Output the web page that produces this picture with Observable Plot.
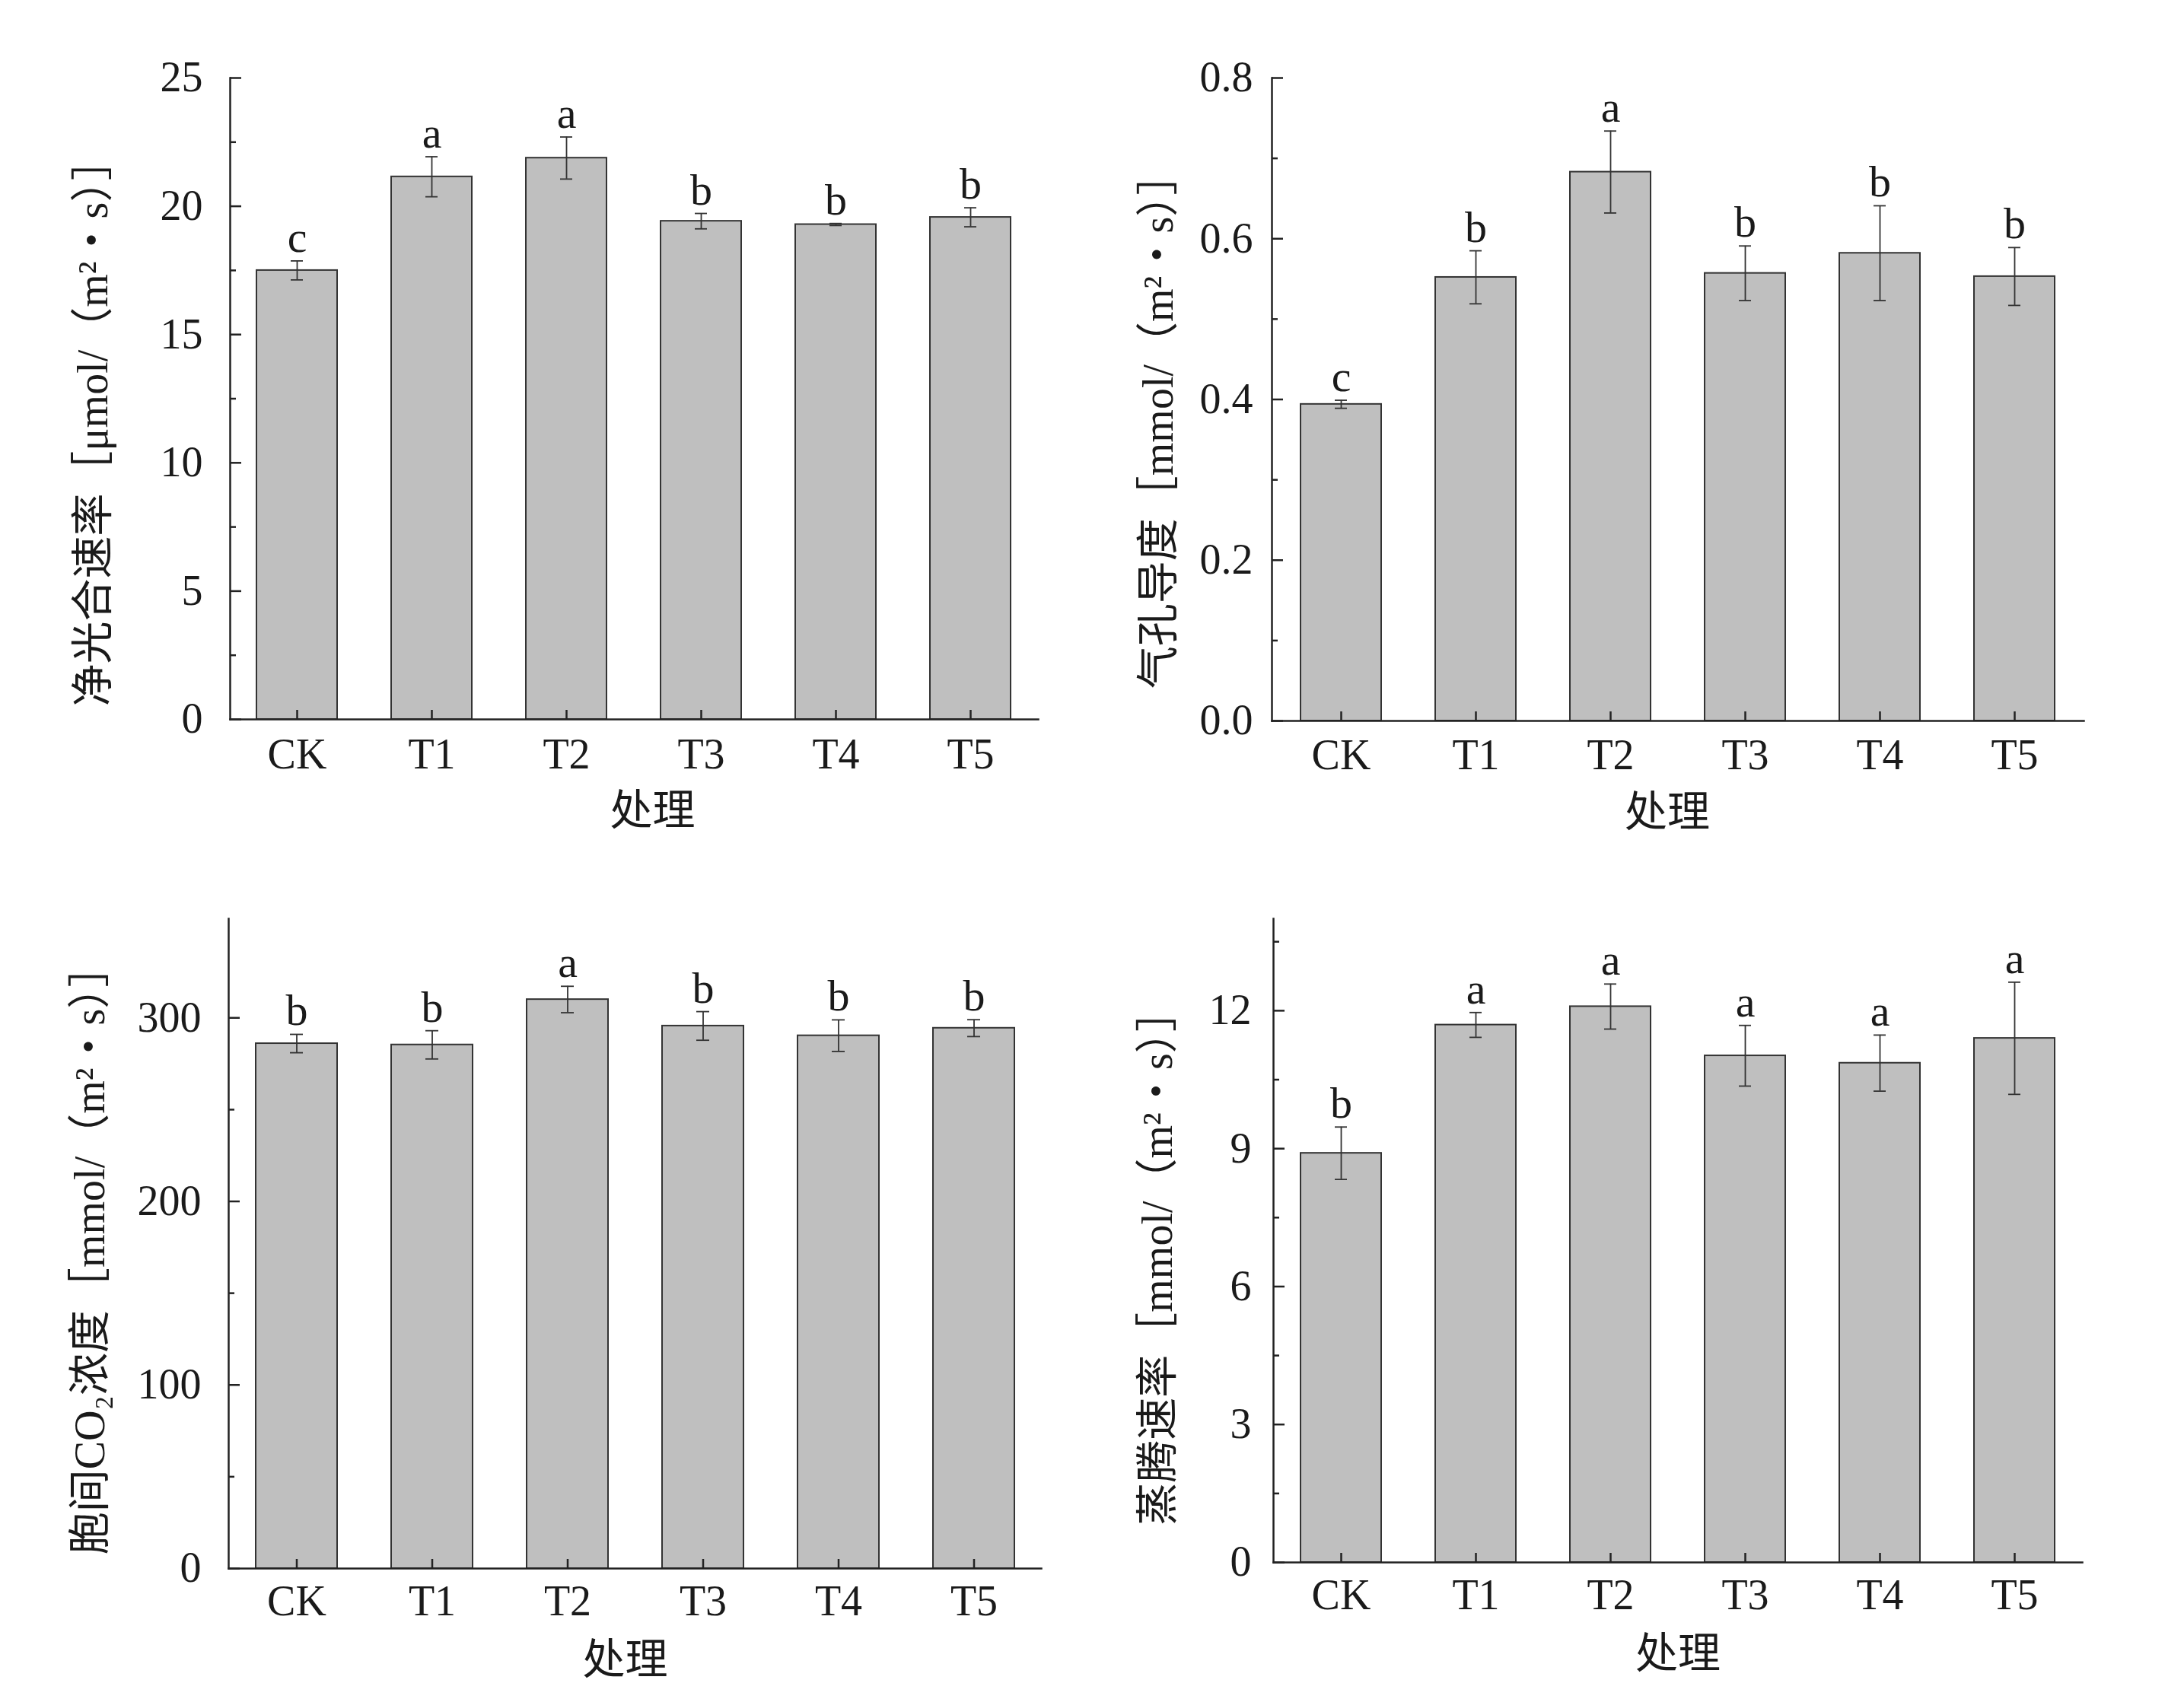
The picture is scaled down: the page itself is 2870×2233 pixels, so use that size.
<!DOCTYPE html>
<html>
<head>
<meta charset="utf-8">
<script src="https://cdn.jsdelivr.net/npm/d3@7"></script>
<script src="https://cdn.jsdelivr.net/npm/@observablehq/plot@0.6"></script>
<style>
  html, body { margin: 0; padding: 0; background: #fff; }
  #wrap { position: relative; width: 2870px; height: 2233px; background: #fff; }
  .panel { position: absolute; }
</style>
</head>
<body>
<div id="wrap"></div>
<script>
// ---- data ----
const categories = ["CK", "T1", "T2", "T3", "T4", "T5"];

const pnMean = [17.5, 21.15, 21.88, 19.42, 19.29, 19.57];
const pnErr = [0.37, 0.78, 0.82, 0.30, 0.04, 0.37];
const pnLetters = ["c", "a", "a", "b", "b", "b"];
const pnTicks = [0, 5, 10, 15, 20, 25];
const pnMinor = [2.5, 7.5, 12.5, 17.5, 22.5];

const gsMean = [0.394, 0.552, 0.683, 0.557, 0.582, 0.553];
const gsErr = [0.005, 0.033, 0.051, 0.034, 0.059, 0.036];
const gsLetters = ["c", "b", "a", "b", "b", "b"];
const gsTicks = [0, 0.2, 0.4, 0.6, 0.8];
const gsMinor = [0.1, 0.3, 0.5, 0.7];

const ciMean = [286, 285.3, 310, 295.6, 290.3, 294.4];
const ciErr = [5, 7.7, 7.2, 7.8, 8.6, 4.6];
const ciLetters = ["b", "b", "a", "b", "b", "b"];
const ciTicks = [0, 100, 200, 300];
const ciMinor = [50, 150, 250];

const trMean = [8.9, 11.69, 12.09, 11.02, 10.86, 11.40];
const trErr = [0.57, 0.27, 0.49, 0.66, 0.61, 1.22];
const trLetters = ["b", "a", "a", "a", "a", "a"];
const trTicks = [0, 3, 6, 9, 12];
const trMinor = [1.5, 4.5, 7.5, 10.5, 13.5];

const xTitle = "处理";
const pnTitle = "净光合速率［μmol/（m²・s）］";
const gsTitle = "气孔导度［mmol/（m²・s）］";
const ciTitle = "胞间CO₂浓度［mmol/（m²・s）］";
const trTitle = "蒸腾速率［mmol/（m²・s）］";

// ---- drawing ----
const FONT = "'Liberation Serif', 'Times New Roman', 'Noto Sans CJK SC', serif";
const INK = "#1a1a1a";

function panel(cfg) {
  const rows = categories.map((c, i) => ({
    cat: c, v: cfg.mean[i], lo: cfg.mean[i] - cfg.err[i], hi: cfg.mean[i] + cfg.err[i], L: cfg.letters[i]
  }));
  const fmt = cfg.fmt || (d => String(d));
  return Plot.plot({
    width: cfg.w, height: cfg.h,
    marginLeft: cfg.mL, marginRight: cfg.mR, marginTop: cfg.mT, marginBottom: cfg.mB,
    style: { fontFamily: FONT, fontSize: "56px", color: INK, background: "white", overflow: "visible" },
    x: { domain: categories, paddingInner: 0.4, paddingOuter: 0.2, axis: null },
    y: { domain: cfg.domain, axis: null },
    marks: [
      Plot.barY(rows, { x: "cat", y: "v", fill: "#bfbfbf", stroke: "#333", strokeWidth: 2 }),
      Plot.ruleX(rows, { x: "cat", y1: "lo", y2: "hi", stroke: "#333", strokeWidth: 1.8 }),
      Plot.tickY(rows, { x: "cat", y: "lo", stroke: "#333", strokeWidth: 1.8, inset: 45 }),
      Plot.tickY(rows, { x: "cat", y: "hi", stroke: "#333", strokeWidth: 1.8, inset: 45 }),
      Plot.text(rows, { x: "cat", y: "hi", text: "L", dy: -12, lineAnchor: "bottom", fontSize: 58, fill: INK }),
      // axis lines
      Plot.frame({ anchor: "left", stroke: "#222", strokeWidth: 2.5 }),
      Plot.frame({ anchor: "bottom", stroke: "#222", strokeWidth: 2.5 }),
      // inward ticks
      Plot.axisY(cfg.ticks, { tickSize: -15, tickFormat: () => "", label: null, stroke: "#222", strokeWidth: 2.5 }),
      Plot.axisY(cfg.minor, { tickSize: -8, tickFormat: () => "", label: null, stroke: "#222", strokeWidth: 2.5 }),
      Plot.axisX({ tickSize: -12, tickFormat: () => "", label: null, stroke: "#222", strokeWidth: 2.5 }),
      // tick labels
      Plot.axisY(cfg.ticks, { tickSize: 0, tickPadding: cfg.yPad, tickFormat: fmt, label: null, fontSize: 56, fill: INK }),
      Plot.axisX({ tickSize: 0, tickPadding: cfg.xPad, label: null, fontSize: 56, fill: INK }),
      // titles
      Plot.text([cfg.title], { text: d => d, frameAnchor: "left", textAnchor: "middle", rotate: -90, dx: cfg.tdx, dy: cfg.tdy, fontSize: 56, fill: INK, lineAnchor: "middle" }),
      Plot.text([xTitle], { text: d => d, frameAnchor: "bottom", textAnchor: "middle", dy: 121, dx: cfg.xdx, fontSize: 56, fill: INK, lineAnchor: "middle" })
    ]
  });
}

const panels = [
  { pos: [0, 0], w: 1435, h: 1116, mL: 302, mR: 71, mT: 102, mB: 171, domain: [0, 25],
    mean: pnMean, err: pnErr, letters: pnLetters, ticks: pnTicks, minor: pnMinor, title: pnTitle,
    yPad: 36, xPad: 25, tdx: -179, tdy: 31, xdx: 24 },
  { pos: [1435, 0], w: 1435, h: 1116, mL: 236, mR: 132, mT: 102, mB: 169, domain: [0, 0.8],
    mean: gsMean, err: gsErr, letters: gsLetters, ticks: gsTicks, minor: gsMinor, title: gsTitle,
    fmt: d3.format(".1f"), yPad: 25, xPad: 24, tdx: -148, tdy: 28, xdx: -14 },
  { pos: [0, 1116], w: 1435, h: 1117, mL: 300, mR: 67, mT: 91, mB: 172, domain: [0, 354],
    mean: ciMean, err: ciErr, letters: ciLetters, ticks: ciTicks, minor: ciMinor, title: ciTitle,
    yPad: 36, xPad: 22, tdx: -181, tdy: 8, xdx: -13 },
  { pos: [1435, 1116], w: 1435, h: 1117, mL: 238, mR: 134, mT: 91, mB: 180, domain: [0, 14],
    mean: trMean, err: trErr, letters: trLetters, ticks: trTicks, minor: trMinor, title: trTitle,
    yPad: 29, xPad: 22, tdx: -151, tdy: 22, xdx: 0 }
];

const wrap = document.getElementById("wrap");
for (const p of panels) {
  const div = document.createElement("div");
  div.className = "panel";
  div.style.left = p.pos[0] + "px";
  div.style.top = p.pos[1] + "px";
  div.appendChild(panel(p));
  wrap.appendChild(div);
}
</script>
</body>
</html>
